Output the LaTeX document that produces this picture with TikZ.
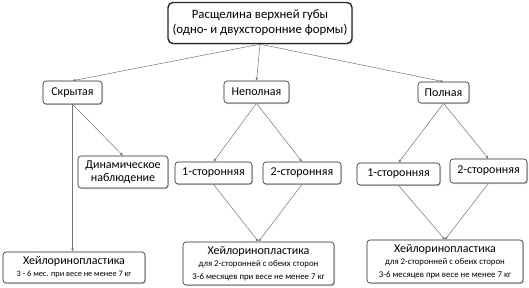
\documentclass[tikz,border=0pt]{standalone}
\usepackage{fontspec}
\setmainfont{Carlito}
\usetikzlibrary{arrows.meta,shadows}

\newcommand{\opsmall}{\fontsize{8.8}{10.5}\selectfont}

\begin{document}
\begin{tikzpicture}[
    x=1pt, y=-1pt,
    font=\fontsize{12}{14}\selectfont,
    box/.style={draw=black!85, line width=0.6pt, rounded corners=3pt, fill=white,
        align=center, inner sep=1pt,
        drop shadow={shadow xshift=1pt, shadow yshift=-1.2pt, opacity=0.35}},
    arr/.style={draw=black!55, line width=0.5pt, -{Latex[length=3pt,width=2.6pt]}},
]
    \useasboundingbox (0,0) rectangle (529,288);

    % top level
    \node[box, line width=1.4pt, rounded corners=5pt, minimum width=184, minimum height=41,
        font=\fontsize{12.8}{15}\selectfont] (top) at (260,23)
        {Расщелина верхней губы\\(одно- и двухсторонние формы)};

    % forms
    \node[box, minimum width=59, minimum height=23] (skr) at (72.5,92.5) {Скрытая};
    \node[box, minimum width=65, minimum height=22] (nep) at (256.5,92) {Неполная};
    \node[box, minimum width=51, minimum height=21] (pol) at (443.5,92.5) {Полная};

    % second row
    \node[box, minimum width=90, minimum height=32, font=\fontsize{12}{13}\selectfont] (dyn) at (123,172) {Динамическое\\наблюдение};
    \node[box, minimum width=77, minimum height=22] (nep1) at (213.5,173) {1-сторонняя};
    \node[box, minimum width=78, minimum height=22] (nep2) at (302,173) {2-сторонняя};
    \node[box, minimum width=83, minimum height=22] (pol1) at (398.5,174) {1-сторонняя};
    \node[box, minimum width=77, minimum height=24] (pol2) at (488.5,171) {2-сторонняя};

    % operations
    \node[box, minimum width=142, minimum height=31] (opskr) at (74,267.5)
        {Хейлоринопластика\\[-2pt]{\fontsize{8.3}{10}\selectfont 3 - 6 мес. при весе не менее 7 кг}};
    \node[box, minimum width=151, minimum height=43] (opnep) at (258.5,263.5)
        {Хейлоринопластика\\[-2pt]{\opsmall для 2-сторонней с обеих сторон}\\[-1.5pt]{\opsmall 3-6 месяцев при весе не менее 7 кг}};
    \node[box, minimum width=156, minimum height=43] (oppol) at (445,261.5)
        {Хейлоринопластика\\[-2pt]{\opsmall для 2-сторонней с обеих сторон}\\[-1.5pt]{\opsmall 3-6 месяцев при весе не менее 7 кг}};

    % connectors
    \draw[arr] (top.south) -- (skr.north);
    \draw[arr] (top.south) -- (nep.north);
    \draw[arr] (top.south) -- (pol.north);
    \draw[arr] (skr.south) -- (dyn.north);
    \draw[arr] (skr.south) -- (skr.south |- opskr.north);
    \draw[arr] (nep.south) -- (nep1.north);
    \draw[arr] (nep.south) -- (nep2.north);
    \draw[arr] (pol.south) -- (pol1.north);
    \draw[arr] (pol.south) -- (pol2.north);
    \draw[arr] (nep1.south) -- (opnep.north);
    \draw[arr] (nep2.south) -- (opnep.north);
    \draw[arr] (pol1.south) -- (oppol.north);
    \draw[arr] (pol2.south) -- (oppol.north);
\end{tikzpicture}
\end{document}
